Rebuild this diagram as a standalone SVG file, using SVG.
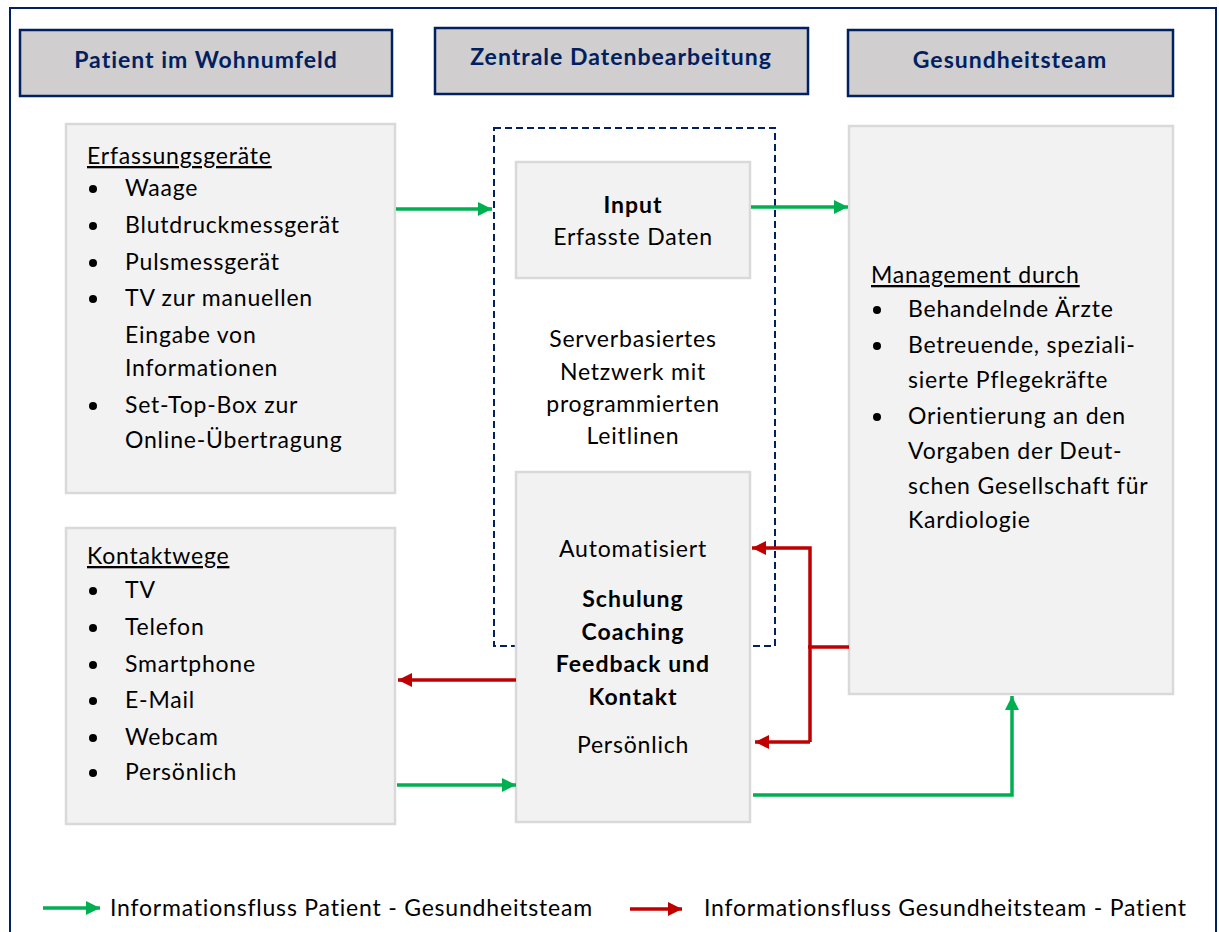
<svg xmlns="http://www.w3.org/2000/svg" width="1219" height="932" viewBox="0 0 1219 932">
<style>
text{font-family:Lato,"Open Sans","Liberation Sans",sans-serif;font-size:23px;letter-spacing:0.8px;fill:#000}
.hdr rect{fill:#d0cece;stroke:#002060;stroke-width:2.5}
.hdr text{font-weight:bold;fill:#002060;text-anchor:middle;letter-spacing:1px}
.box{fill:#f2f2f2;stroke:#d9d9d9;stroke-width:2.5}
.c{text-anchor:middle}
.b{font-weight:bold;letter-spacing:1px}
.u{text-decoration:underline}
.g{stroke:#00b050;stroke-width:3.5;fill:none}
.r{stroke:#c00000;stroke-width:3.5;fill:none}
</style>
<defs>
<marker id="ag" viewBox="0 0 10 10" refX="10" refY="5" markerWidth="14" markerHeight="14" markerUnits="userSpaceOnUse" orient="auto"><path d="M0,0 L10,5 L0,10 Z" fill="#00b050"/></marker>
<marker id="ar" viewBox="0 0 10 10" refX="10" refY="5" markerWidth="14" markerHeight="14" markerUnits="userSpaceOnUse" orient="auto"><path d="M0,0 L10,5 L0,10 Z" fill="#c00000"/></marker>
</defs>
<rect x="0" y="0" width="1219" height="932" fill="#fff"/>
<rect x="10" y="8" width="1206" height="940" fill="none" stroke="#002060" stroke-width="2"/>

<g id="hdr-patient" class="hdr"><rect x="20" y="30" width="372" height="66"/><text x="206" y="68">Patient im Wohnumfeld</text></g>
<g id="hdr-zentrale" class="hdr"><rect x="435" y="28" width="373" height="66"/><text x="621" y="65">Zentrale Datenbearbeitung</text></g>
<g id="hdr-team" class="hdr"><rect x="848" y="30" width="325" height="66"/><text x="1010" y="68">Gesundheitsteam</text></g>

<g id="server">
<rect x="494" y="128" width="281" height="518" fill="none" stroke="#002060" stroke-width="2" stroke-dasharray="7,4"/>
<text class="c" x="633" y="347">Serverbasiertes</text>
<text class="c" x="633" y="380">Netzwerk mit</text>
<text class="c" x="633" y="412">programmierten</text>
<text class="c" x="633" y="444">Leitlinen</text>
</g>

<g id="erfassung">
<rect class="box" x="66" y="124" width="329" height="369"/>
<text class="u" x="87" y="164">Erfassungsgeräte</text>
<g fill="#000"><circle cx="93" cy="189" r="4"/><circle cx="93" cy="226" r="4"/><circle cx="93" cy="263" r="4"/><circle cx="93" cy="299" r="4"/><circle cx="93" cy="406" r="4"/></g>
<text x="125" y="196">Waage</text>
<text x="125" y="233">Blutdruckmessgerät</text>
<text x="125" y="270">Pulsmessgerät</text>
<text x="125" y="306">TV zur manuellen</text>
<text x="125" y="343">Eingabe von</text>
<text x="125" y="376">Informationen</text>
<text x="125" y="413">Set-Top-Box zur</text>
<text x="125" y="448">Online-Übertragung</text>
</g>

<g id="kontakt">
<rect class="box" x="66" y="528" width="329" height="296"/>
<text class="u" x="87" y="564">Kontaktwege</text>
<g fill="#000"><circle cx="93" cy="591" r="4"/><circle cx="93" cy="628" r="4"/><circle cx="93" cy="665" r="4"/><circle cx="93" cy="701" r="4"/><circle cx="93" cy="738" r="4"/><circle cx="93" cy="773" r="4"/></g>
<text x="125" y="598">TV</text>
<text x="125" y="635">Telefon</text>
<text x="125" y="672">Smartphone</text>
<text x="125" y="708">E-Mail</text>
<text x="125" y="745">Webcam</text>
<text x="125" y="780">Persönlich</text>
</g>

<g id="input">
<rect class="box" x="516" y="162" width="234" height="116"/>
<text class="c b" x="633" y="213">Input</text>
<text class="c" x="633" y="245">Erfasste Daten</text>
</g>

<g id="schulung">
<rect class="box" x="516" y="472" width="234" height="350"/>
<text class="c" x="633" y="557">Automatisiert</text>
<text class="c b" x="633" y="607">Schulung</text>
<text class="c b" x="633" y="640">Coaching</text>
<text class="c b" x="633" y="672">Feedback und</text>
<text class="c b" x="633" y="705">Kontakt</text>
<text class="c" x="633" y="753">Persönlich</text>
</g>

<g id="management">
<rect class="box" x="849" y="126" width="324" height="568"/>
<text class="u" x="871" y="283">Management durch</text>
<g fill="#000"><circle cx="877" cy="310" r="4"/><circle cx="877" cy="346" r="4"/><circle cx="877" cy="417" r="4"/></g>
<text x="908" y="317">Behandelnde Ärzte</text>
<text x="908" y="353">Betreuende, speziali-</text>
<text x="908" y="388">sierte Pflegekräfte</text>
<text x="908" y="424">Orientierung an den</text>
<text x="908" y="459">Vorgaben der Deut-</text>
<text x="908" y="494">schen Gesellschaft für</text>
<text x="908" y="528">Kardiologie</text>
</g>

<g id="connectors">
<path class="g" d="M396,209 H492" marker-end="url(#ag)"/>
<path class="g" d="M751,207 H848" marker-end="url(#ag)"/>
<path class="r" d="M516,680 H398" marker-end="url(#ar)"/>
<path class="g" d="M397,785 H516" marker-end="url(#ag)"/>
<path class="r" d="M849,647 H808"/>
<path class="r" d="M810,742 V548 H752" marker-end="url(#ar)"/>
<path class="r" d="M810,742 H755" marker-end="url(#ar)"/>
<path class="g" d="M753,795 H1012 V696" marker-end="url(#ag)"/>
</g>

<g id="legend">
<path class="g" d="M43,908 H100" marker-end="url(#ag)"/>
<text x="110" y="916">Informationsfluss Patient - Gesundheitsteam</text>
<path class="r" d="M630,909 H682" marker-end="url(#ar)"/>
<text x="704" y="916">Informationsfluss Gesundheitsteam - Patient</text>
</g>
</svg>
